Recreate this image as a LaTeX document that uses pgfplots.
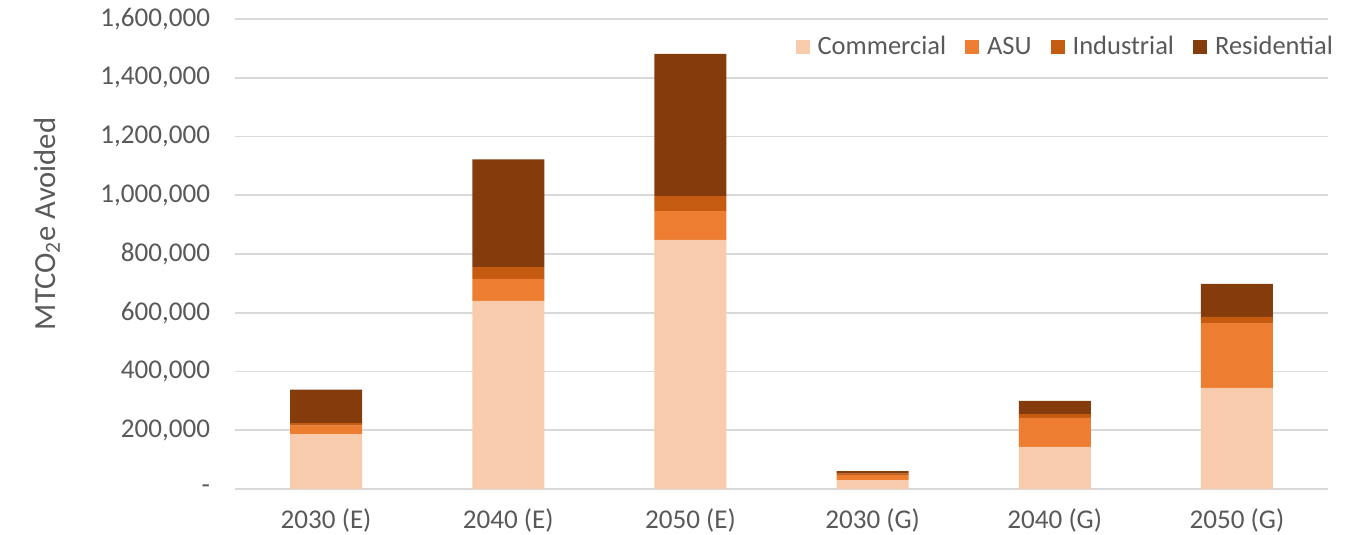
\documentclass[border=0pt]{standalone}
\usepackage{pgfplots}
\pgfplotsset{compat=1.18}
\usepackage{fontspec}
\setmainfont{Carlito}

\definecolor{comm}{HTML}{F8CBAD}
\definecolor{asu}{HTML}{ED7D31}
\definecolor{ind}{HTML}{C55A11}
\definecolor{res}{HTML}{843C0C}
\definecolor{txt}{HTML}{595959}
\definecolor{grd}{HTML}{D9D9D9}

\begin{document}
\begin{tikzpicture}[font=\fontsize{13.3}{15}\selectfont]
\path[use as bounding box] (-117.5bp,-23bp) rectangle (555.5bp,244.5bp);
\begin{axis}[
  scale only axis, width=546.5bp, height=235bp,
  ybar stacked, bar width=36bp,
  xmin=-0.5, xmax=5.5, ymin=0, ymax=1600000,
  xtick={0,...,5},
  xticklabels={2030 (E),2040 (E),2050 (E),2030 (G),2040 (G),2050 (G)},
  ytick={0,200000,...,1600000},
  yticklabels={{-},{200,000},{400,000},{600,000},{800,000},{1,000,000},{1,200,000},{1,400,000},{1,600,000}},
  scaled y ticks=false,
  axis line style={draw=none},
  major tick length=0pt,
  ymajorgrids, grid style={grd, line width=0.8pt},
  tick label style={text=txt},
  yticklabel style={xshift=-9bp, font=\fontsize{13.6}{15}\selectfont},
  xticklabel style={yshift=-6.5bp, font=\fontsize{13.6}{15}\selectfont},
  ylabel={MTCO\textsubscript{2}e Avoided},
  ylabel style={text=txt, font=\fontsize{15.4}{17}\selectfont,
    at={(axis description cs:-0.172,0.564)}, anchor=center},
  legend style={draw=none, fill=none, text=txt, legend columns=-1,
    at={(1.014,0.94)}, anchor=east,
    /tikz/every odd column/.append style={column sep=2bp},
    /tikz/every even column/.append style={column sep=7.5bp}},
  legend image code/.code={\fill[#1] (0bp,-3.5bp) rectangle (7bp,3.5bp);},
]
\addplot[fill=comm, draw=none] coordinates {(0,186000) (1,640000) (2,848000) (3,30000) (4,143000) (5,344000)};
\addplot[fill=asu, draw=none] coordinates {(0,30000) (1,75000) (2,98000) (3,17000) (4,99000) (5,221000)};
\addplot[fill=ind, draw=none] coordinates {(0,8000) (1,40000) (2,51000) (3,5000) (4,13000) (5,21000)};
\addplot[fill=res, draw=none] coordinates {(0,114000) (1,367000) (2,484000) (3,9000) (4,45000) (5,112000)};
\legend{Commercial, ASU, Industrial, Residential}
\end{axis}
\end{tikzpicture}
\end{document}
